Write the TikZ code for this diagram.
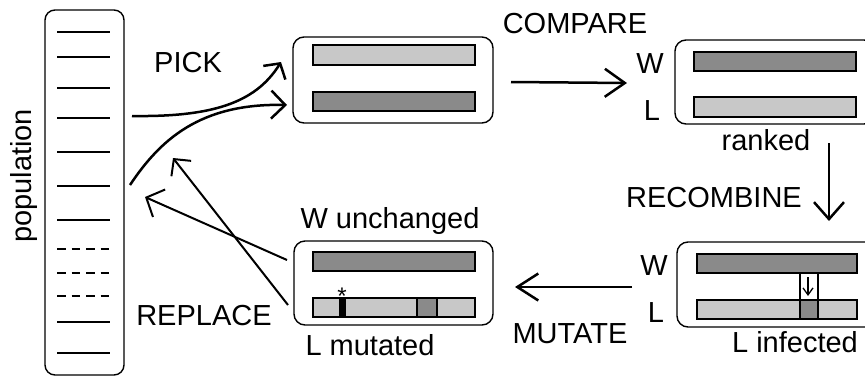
\documentclass[tikz,border=0pt]{standalone}
\usepackage{fontspec}
\setmainfont{Liberation Sans}
\usetikzlibrary{arrows.meta}
\definecolor{lightbar}{RGB}{200,200,200}
\definecolor{darkbar}{RGB}{138,138,138}
\begin{document}
\begin{tikzpicture}[x=1pt,y=-1pt,
  lbl/.style={font=\fontsize{29}{32}\selectfont, inner sep=0pt, anchor=base},
  frame/.style={draw, line width=1.4pt, rounded corners=11pt, inner sep=0pt},
  bar/.style={draw, line width=1.4pt, inner sep=0pt, minimum width=162pt, minimum height=19pt},
  seg/.style={draw, line width=1.4pt, inner sep=0pt, minimum height=19pt},
  entry/.style={line width=1.5pt},
  dentry/.style={line width=1.5pt, dash pattern=on 8.5pt off 6pt},
  conn/.style={line width=2.5pt},
  thin/.style={line width=2pt},
]
\useasboundingbox (0,0) rectangle (865,376);

% population
\node[frame, rounded corners=10pt, minimum width=79pt, minimum height=365pt] (pop) at (84.5,192.5) {};
\foreach \y in {32,57,88,118,152,186,220,322,353} \draw[entry] (57,\y) -- (110,\y);
\foreach \y in {249,273,296} \draw[dentry] (57,\y) -- (110,\y);
\node[font=\fontsize{29}{32}\selectfont, inner sep=0pt, rotate=90] (poplbl) at (24,176) {population};

% picked pair
\node[frame, minimum width=200pt, minimum height=86pt] (pair) at (393,80) {};
\node[bar, fill=lightbar, minimum height=20pt] (pairA) at (394,55) {};
\node[bar, fill=darkbar] (pairB) at (394,101.5) {};

% ranked
\node[frame, minimum width=200pt, minimum height=84pt] (ranked) at (775,82) {};
\node[bar, fill=darkbar] (rankW) at (775,61.5) {};
\node[bar, fill=lightbar, minimum height=20pt] (rankL) at (775,107) {};
\node[lbl] (rW) at (650,73) {W};
\node[lbl] (rL) at (652,120) {L};
\node[lbl] (rankedlbl) at (766,150) {ranked};

% infected
\node[frame, minimum width=200pt, minimum height=85pt] (inf) at (777,284.5) {};
\node[bar, fill=darkbar, minimum width=160pt] (infW) at (777,263.5) {};
\node[bar, fill=lightbar, minimum width=160pt] (infL) at (777,309.5) {};
\node[seg, fill=darkbar, minimum width=18pt] (infS) at (809,309.5) {};
\coordinate (ch1a) at (800,273); \coordinate (ch1b) at (800,300);
\coordinate (ch2a) at (818,273); \coordinate (ch2b) at (818,300);
\draw[line width=1.4pt] (ch1a) -- (ch1b);
\draw[line width=1.4pt] (ch2a) -- (ch2b);
\coordinate (ia0) at (808,277); \coordinate (ia1) at (808,296);
\draw[line width=1.3pt, -{Straight Barb[length=7pt,width=10pt]}] (ia0) -- (ia1);
\node[lbl] (iW) at (654,275) {W};
\node[lbl] (iL) at (656,322) {L};
\node[lbl] (inflbl) at (795,352) {L infected};

% mutated
\node[frame, minimum width=199pt, minimum height=84pt] (mut) at (393.5,283) {};
\node[bar, fill=darkbar] (mutW) at (394,261.5) {};
\node[bar, fill=lightbar] (mutL) at (394,307.5) {};
\node[seg, fill=black, minimum width=5pt] (mutM) at (342.5,307.5) {};
\node[seg, fill=darkbar, minimum width=20pt] (mutS) at (427,307.5) {};
\node[font=\fontsize{24}{26}\selectfont, inner sep=0pt, anchor=base] (star) at (342,304) {*};
\node[lbl] (unch) at (390,228) {W unchanged};
\node[lbl] (mutlbl) at (370,355) {L mutated};

% operation labels
\node[lbl] (pick) at (188,72) {PICK};
\node[lbl] (compare) at (575,33) {COMPARE};
\node[lbl] (recomb) at (714,207) {RECOMBINE};
\node[lbl] (mutate) at (570,343) {MUTATE};
\node[lbl] (replace) at (204,325) {REPLACE};

% connectors
\coordinate (pa0) at (132,116); \coordinate (pa1) at (281,62);
\coordinate (pb0) at (130,185); \coordinate (pb1) at (287,105);
\draw[conn, -{Straight Barb[length=11pt,width=26pt]}] (pa0) .. controls (210,117) and (255,104) .. (pa1);
\draw[conn, -{Straight Barb[length=14pt,width=28pt]}] (pb0) .. controls (160,140) and (200,103) .. (pb1);

\coordinate (c0) at (511,82); \coordinate (c1) at (627,83);
\draw[conn, -{Straight Barb[length=20pt,width=28pt]}] (c0) -- (c1);

\coordinate (r0) at (829,143); \coordinate (r1) at (829,221);
\draw[conn, -{Straight Barb[length=17pt,width=30pt]}] (r0) -- (r1);

\coordinate (m0) at (632,287); \coordinate (m1) at (515,287);
\draw[conn, -{Straight Barb[length=21pt,width=27pt]}] (m0) -- (m1);

\coordinate (q0) at (287,260); \coordinate (q1) at (145,197);
\draw[thin, -{Straight Barb[length=14pt,width=30pt]}] (q0) -- (q1);
\coordinate (s0) at (288,305); \coordinate (s1) at (173,158);
\draw[thin, -{Straight Barb[length=12pt,width=25pt]}] (s0) -- (s1);
\end{tikzpicture}
\end{document}
